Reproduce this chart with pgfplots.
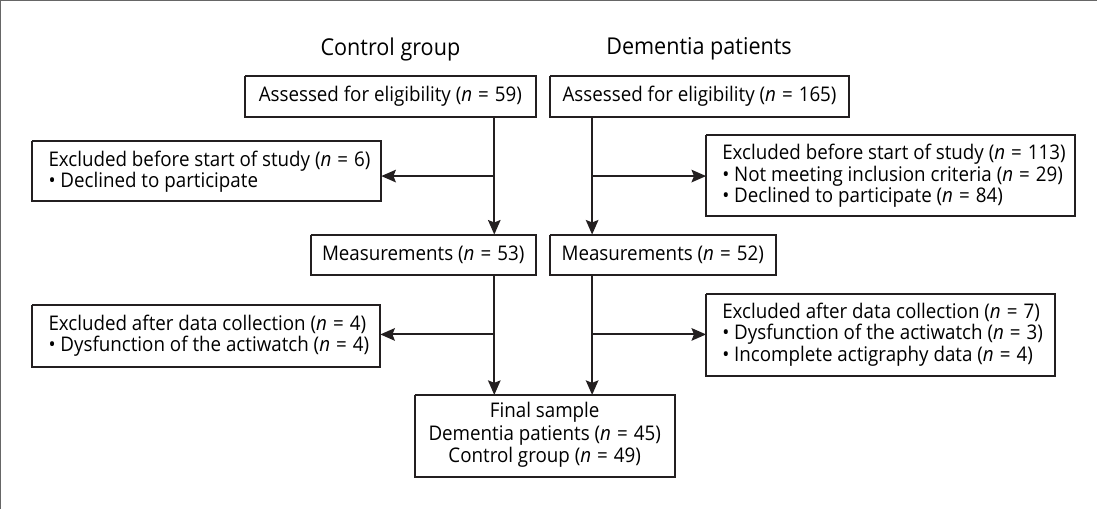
\documentclass[border=0pt]{standalone}
\usepackage{pgfplots}
\pgfplotsset{compat=1.18}
\usepackage{fontspec}
\setmainfont{Open Sans}[FakeStretch=0.93]
\usetikzlibrary{arrows.meta}
\definecolor{ink}{HTML}{231F20}
\newcommand{\nn}[1]{(\textit{n}\hspace{0.3em}=\hspace{0.3em}#1)}
\begin{document}
\begin{tikzpicture}
\begin{axis}[scale only axis, width=549pt, height=257pt,
  xmin=0, xmax=1098, ymin=0, ymax=514, y dir=reverse,
  axis lines=none, clip=false,
  every node/.style={font=\fontsize{8.9}{10}\selectfont, text=ink, inner sep=0pt}]
% frame
\addplot[black!60, line width=0.55pt] coordinates {(10.5,514) (10.5,10) (1098,10)};
% boxes
\pgfplotsset{bx/.style={ink, line width=1pt}}
\addplot[bx] coordinates {(253,85) (541,85) (541,125) (253,125) (253,85)};
\addplot[bx] coordinates {(555,85) (852,85) (852,125) (555,125) (555,85)};
\addplot[bx] coordinates {(42,149) (388,149) (388,209) (42,209) (42,149)};
\addplot[bx] coordinates {(710,143) (1076,143) (1076,224) (710,224) (710,143)};
\addplot[bx] coordinates {(318,242) (541,242) (541,282) (318,282) (318,242)};
\addplot[bx] coordinates {(555,242) (779,242) (779,282) (555,282) (555,242)};
\addplot[bx] coordinates {(42,312) (387,312) (387,373) (42,373) (42,312)};
\addplot[bx] coordinates {(710,301) (1056,301) (1056,382) (710,382) (710,301)};
\addplot[bx] coordinates {(421,401) (679,401) (679,482) (421,482) (421,401)};
% arrows
\pgfplotsset{ar/.style={ink, line width=1pt, -{Stealth[length=7.2pt,width=6.2pt,inset=1.2pt]}}}
\addplot[ar] coordinates {(500,125) (500,242)};
\addplot[ar] coordinates {(500,184) (388,184)};
\addplot[ar] coordinates {(597,125) (597,242)};
\addplot[ar] coordinates {(597,184) (710,184)};
\addplot[ar] coordinates {(500,282) (500,401)};
\addplot[ar] coordinates {(500,341) (387,341)};
\addplot[ar] coordinates {(597,282) (597,401)};
\addplot[ar] coordinates {(597,341) (710,341)};
% titles
\node[font=\fontsize{11.5}{13}\selectfont] at (axis cs:397,58) {Control group};
\node[font=\fontsize{11.5}{13}\selectfont] at (axis cs:703,58) {Dementia patients};
% box texts
\node at (axis cs:397,105) {Assessed for eligibility \nn{59}};
\node at (axis cs:703.5,105) {Assessed for eligibility \nn{165}};
\node[anchor=west] at (axis cs:51,169) {Excluded before start of study \nn{6}};
\node[anchor=west] at (axis cs:51,190) {\textbullet\ Declined to participate};
\node[anchor=west] at (axis cs:719,162) {Excluded before start of study \nn{113}};
\node[anchor=west] at (axis cs:719,184) {\textbullet\ Not meeting inclusion criteria \nn{29}};
\node[anchor=west] at (axis cs:719,205) {\textbullet\ Declined to participate \nn{84}};
\node at (axis cs:429.5,262) {Measurements \nn{53}};
\node at (axis cs:667,262) {Measurements \nn{52}};
\node[anchor=west] at (axis cs:51,331) {Excluded after data collection \nn{4}};
\node[anchor=west] at (axis cs:51,353) {\textbullet\ Dysfunction of the actiwatch \nn{4}};
\node[anchor=west] at (axis cs:719,319) {Excluded after data collection \nn{7}};
\node[anchor=west] at (axis cs:719,341) {\textbullet\ Dysfunction of the actiwatch \nn{3}};
\node[anchor=west] at (axis cs:719,363) {\textbullet\ Incomplete actigraphy data \nn{4}};
\node at (axis cs:550,418) {Final sample};
\node at (axis cs:550,441) {Dementia patients \nn{45}};
\node at (axis cs:550,463) {Control group \nn{49}};
\end{axis}
\end{tikzpicture}
\end{document}
